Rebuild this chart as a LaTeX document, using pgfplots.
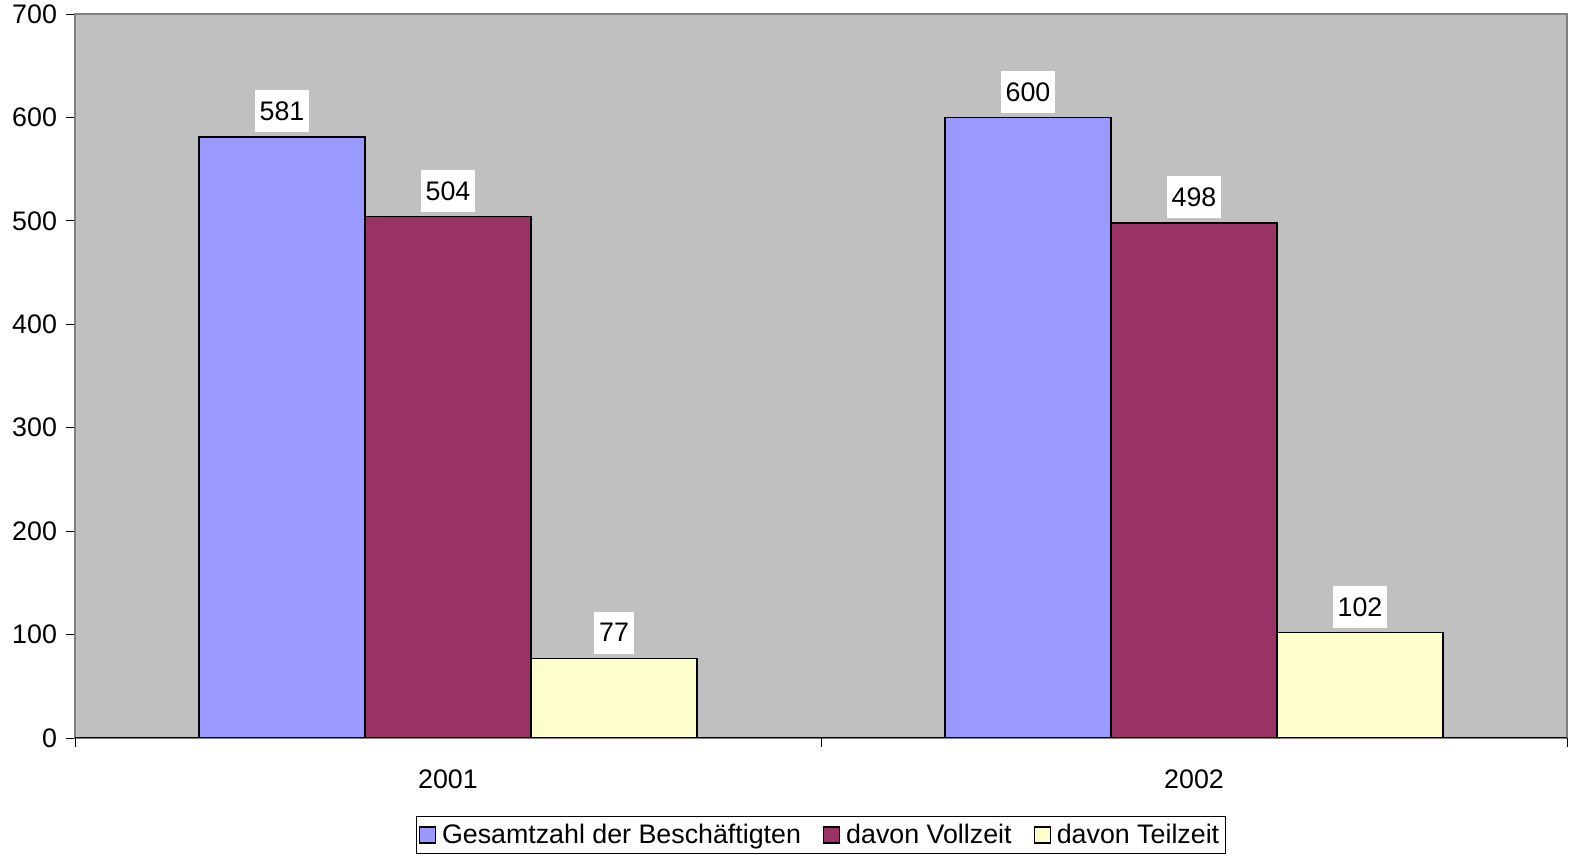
\documentclass[border=0pt]{standalone}
\usepackage{pgfplots}
\pgfplotsset{compat=1.18}
\usepackage{fontspec}
\setmainfont{Liberation Sans}
\definecolor{gesamt}{HTML}{9999FF}
\definecolor{voll}{HTML}{993366}
\definecolor{teil}{HTML}{FFFFCC}
\definecolor{plotbg}{HTML}{C0C0C0}
\definecolor{frame}{HTML}{808080}
\newcommand{\chartfont}{\fontsize{13.4pt}{15pt}\selectfont}
\begin{document}
\begin{tikzpicture}
\useasboundingbox (-37.5pt,-59pt) rectangle (747.5pt,369pt);
\begin{axis}[
  at={(0,0)}, anchor=south west,
  scale only axis,
  width=746pt, height=362pt,
  xmin=-0.5, xmax=1.5,
  ymin=0, ymax=700,
  ytick={0,100,...,700},
  xtick={0,1},
  xticklabels={2001,2002},
  x tick style={draw=none},
  extra x ticks={-0.5,0.5,1.5},
  extra x tick labels={},
  extra x tick style={x tick style={draw=black, thin}},
  y tick style={black, thin},
  major tick length=4.5pt,
  tick align=outside,
  xtick pos=bottom, ytick pos=left,
  axis line style={frame, line width=0.6pt},
  axis background/.style={fill=plotbg},
  font=\chartfont,
  tick label style={font=\chartfont},
  /pgf/number format/assume math mode=true,
  xticklabel style={yshift=-8pt},
  yticklabel style={xshift=-1pt},
  ybar=0pt, bar width=83pt,
  nodes near coords,
  every node near coord/.append style={fill=white, inner xsep=2.5pt, minimum height=21pt, anchor=south, yshift=2pt, text=black, font=\chartfont},
  legend style={at={(0.5,0)}, anchor=center, yshift=-48.5pt, legend columns=3, draw=black, line width=0.4pt, inner xsep=1pt, inner ysep=1.5pt, font=\chartfont, /tikz/every even column/.append style={column sep=9pt}, /tikz/every odd column/.append style={column sep=1pt}},
  legend cell align=left,
  legend image code/.code={\draw[#1, line width=0.6pt] (0pt,-4pt) rectangle (8pt,4pt);},
]
\addplot[fill=gesamt, draw=black, line width=0.6pt] coordinates {(0,581) (1,600)};
\addplot[fill=voll, draw=black, line width=0.6pt] coordinates {(0,504) (1,498)};
\addplot[fill=teil, draw=black, line width=0.6pt] coordinates {(0,77) (1,102)};
\legend{Gesamtzahl der Beschäftigten,davon Vollzeit,davon Teilzeit}
\draw[black, line width=0.8pt] (rel axis cs:0,0) -- (rel axis cs:1,0);
\end{axis}
\end{tikzpicture}
\end{document}
